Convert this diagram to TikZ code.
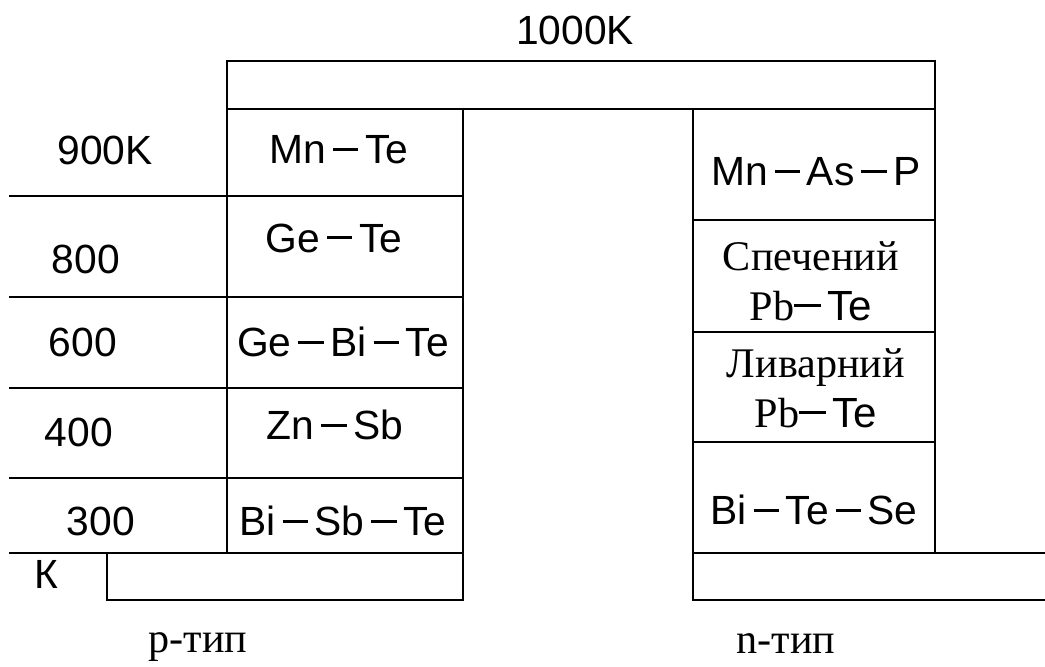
\documentclass[tikz,border=0pt]{standalone}
\usepackage{fontspec}
\setmainfont{Liberation Serif}
\setsansfont{Liberation Sans}
\usetikzlibrary{positioning}
\newcommand{\bond}{\,\rule[0.32em]{0.62em}{0.07em}\,}

\begin{document}
\begin{tikzpicture}[x=0.025cm, y=-0.025cm, line width=2pt,
  every node/.style={inner sep=0pt, font=\fontsize{29}{32}\selectfont\sffamily},
  serif/.style={font=\fontsize{30}{35.6}\selectfont\rmfamily, align=center},
  leglabel/.style={font=\fontsize{30}{32}\selectfont\rmfamily}]
  \useasboundingbox (0,0) rectangle (1045,666);

  % top bar (hot junction)
  \draw (227,61) rectangle (935,109);

  % p leg
  \draw (227,109) rectangle (463,553);
  \foreach \y in {196,297,388,478,553}
    \draw (9,\y) -- (463,\y);
  \draw (107,553) rectangle (463,600);

  % n leg
  \draw (693,109) rectangle (935,553);
  \foreach \y in {220,332,442}
    \draw (693,\y) -- (935,\y);
  \draw (1045,553) -- (693,553) -- (693,600) -- (1045,600);

  % temperatures
  \node (t1000) at (575,30) {1000K};
  \node (t900) at (105,150) {900K};
  \node (t800) at (86,259) {800};
  \node (t600) at (83,342) {600};
  \node (t400) at (79,432) {400};
  \node (t300) at (101,521) {300};
  \node (tk) at (46,574) {К};

  % p-type materials
  \node (mnte) at (339,150) {Mn\bond Te};
  \node (gete) at (334,238) {Ge\bond Te};
  \node (gebite) at (343,342) {Ge\bond Bi\bond Te};
  \node (znsb) at (335,425) {Zn\bond Sb};
  \node (bisbte) at (343,521) {Bi\bond Sb\bond Te};

  % n-type materials
  \node (mnasp) at (816,172) {Mn\bond As\bond P};
  \node[serif] (sintered) at (811,281) {Спечений\\Pb\sffamily\rule[0.32em]{0.62em}{0.07em}\,Te};
  \node[serif] (cast) at (816,388) {Ливарний\\Pb\sffamily\rule[0.32em]{0.62em}{0.07em}\,Te};
  \node (bitese) at (814,510) {Bi\bond Te\bond Se};

  % leg labels
  \node[leglabel] (ptype) at (198,647) {p-тип};
  \node[leglabel] (ntype) at (786,644) {n-тип};
\end{tikzpicture}
\end{document}
